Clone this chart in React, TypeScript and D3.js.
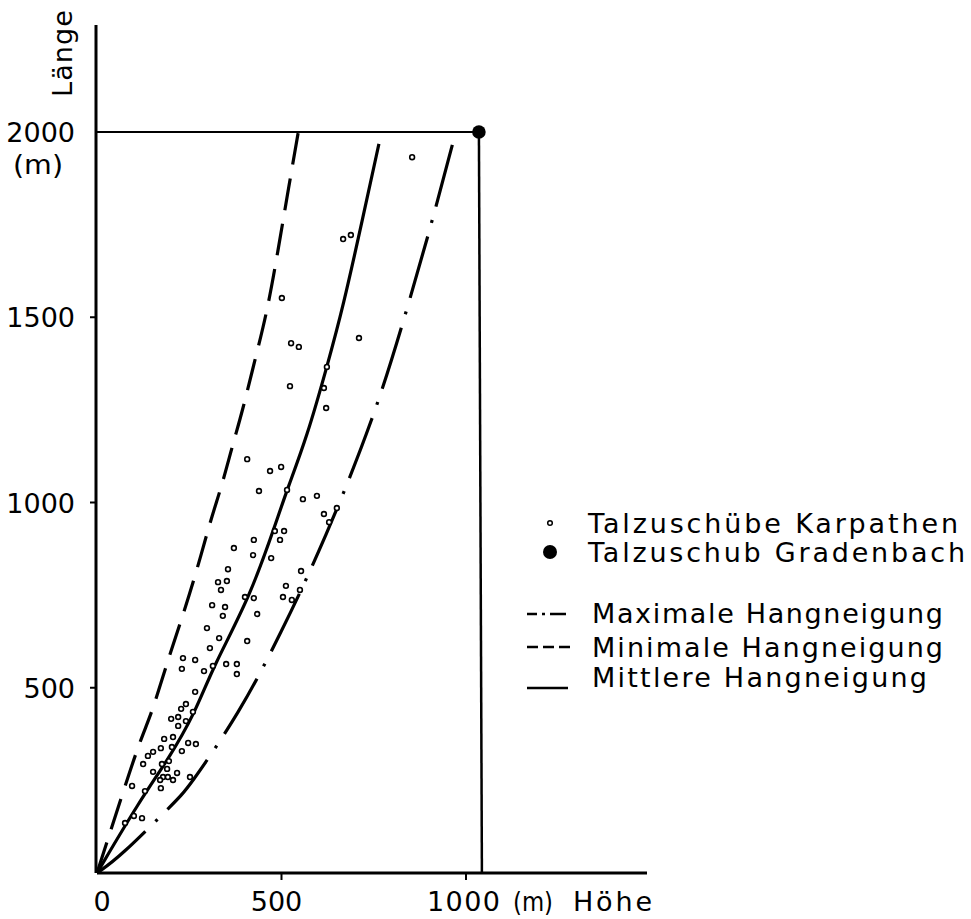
import React, { useEffect } from "react";
import * as d3 from "d3";

// Höhe (m) / Länge (m) readings
const karpathenHoehe = [854, 667, 688, 501, 526, 547, 710, 623, 523, 615, 621, 407, 469, 499, 439, 558, 596, 515, 615, 629, 650, 507, 482, 425, 496,
  371, 423, 472, 355, 553, 328, 352, 336, 512, 550, 401, 425, 504, 528, 312, 347, 341, 434, 298, 331, 407, 306, 233, 266, 230, 290, 314, 350, 379, 379,
  266, 241, 228, 260, 201, 220, 241, 220, 182, 206, 247, 268, 152, 173, 203, 230, 138, 125, 176, 195, 152, 190, 179, 192, 217, 171, 206, 252, 173, 130, 95, 76, 100, 122];
const karpathenLaenge = [1932, 1711, 1722, 1552, 1430, 1420, 1444, 1366, 1314, 1309, 1255, 1117, 1085, 1096, 1031, 1009, 1018, 1034, 969, 947, 985, 923, 923, 899, 899,
  877, 858, 850, 820, 815, 785, 788, 764, 775, 764, 745, 742, 745, 737, 723, 718, 694, 699, 661, 634, 626, 607, 580, 575, 551, 545, 559, 564, 564, 537,
  489, 456, 443, 435, 416, 421, 410, 397, 362, 367, 351, 348, 327, 337, 340, 329, 316, 294, 294, 302, 273, 281, 259, 259, 270, 251, 251, 259, 229, 221, 235, 135, 154, 148];

const gradenbachHoehe = 1035;
const gradenbachLaenge = 2000;

const maxHoehe = [0, 62, 211, 244, 388, 496, 618, 753, 829, 902, 965];
const maxLaenge = [0, 43, 192, 224, 435, 642, 899, 1236, 1484, 1735, 1973];
const minHoehe = [0, 35, 70, 117, 149, 192, 233, 271, 310, 339, 369, 393, 428, 461, 491, 515, 545];
const minLaenge = [0, 108, 216, 359, 432, 575, 696, 818, 960, 1047, 1161, 1242, 1385, 1514, 1682, 1825, 1997];
const meanHoehe = [0, 117, 192, 266, 314, 415, 490, 515, 569, 623, 667, 721, 764];
const meanLaenge = [0, 197, 305, 432, 556, 745, 960, 1034, 1177, 1366, 1528, 1771, 1968];

const xTicks = [500, 1000];
const yTicks = [500, 1000, 1500];
const xTickLabels = ["0", "500"];
const yTickLabels = ["500", "1000", "1500", "2000"];

const legendLabels = [
  "Talzuschübe Karpathen",
  "Talzuschub Gradenbach",
  "Maximale Hangneigung",
  "Minimale Hangneigung",
  "Mittlere Hangneigung",
];

const FONT = "'DejaVu Sans', sans-serif";

export default function App() {
  useEffect(() => {
    document.body.style.margin = "0";
    document.body.style.background = "#fff";
  }, []);

  const x = d3.scaleLinear().domain([0, 1000]).range([97, 466]);
  const y = d3.scaleLinear().domain([0, 2000]).range([873, 132]);

  const line = d3
    .line<[number, number]>()
    .x((d) => x(d[0]))
    .y((d) => y(d[1]))
    .curve(d3.curveBasis);

  const zip = (a: number[], b: number[]) => a.map((v, i) => [v, b[i]] as [number, number]);

  const gx = x(gradenbachHoehe);
  const gy = y(gradenbachLaenge);

  const txt = { fontFamily: FONT, fontSize: 27, fill: "#000" } as const;

  return (
    <svg width={971} height={919} style={{ position: "absolute", left: 0, top: 0, background: "#fff" }}>
      {/* axes */}
      <line x1={x(0)} y1={y(0)} x2={647} y2={y(0)} stroke="#000" strokeWidth={3} />
      <line x1={x(0) - 1} y1={y(0)} x2={x(0) - 1} y2={25} stroke="#000" strokeWidth={3} />
      {xTicks.map((t) => (
        <line key={"xt" + t} x1={x(t)} x2={x(t)} y1={y(0)} y2={y(0) + 7} stroke="#000" strokeWidth={2} />
      ))}
      {yTicks.map((t) => (
        <line key={"yt" + t} x1={x(0) - 7} x2={x(0)} y1={y(t)} y2={y(t)} stroke="#000" strokeWidth={2} />
      ))}

      {/* reference lines to Gradenbach */}
      <line x1={x(0)} y1={gy} x2={gx} y2={gy} stroke="#000" strokeWidth={2} />
      <line x1={gx} y1={gy} x2={gx + 3} y2={y(0)} stroke="#000" strokeWidth={2.5} />

      {/* curves */}
      <path d={line(zip(minHoehe, minLaenge)) || ""} fill="none" stroke="#000" strokeWidth={3.2} strokeDasharray="32,14" />
      <path d={line(zip(meanHoehe, meanLaenge)) || ""} fill="none" stroke="#000" strokeWidth={3.2} />
      <path d={line(zip(maxHoehe, maxLaenge)) || ""} fill="none" stroke="#000" strokeWidth={3.2} strokeDasharray="64,14,3,14" />

      {/* scatter */}
      {karpathenHoehe.map((h, i) => (
        <circle key={"p" + i} cx={x(h)} cy={y(karpathenLaenge[i])} r={2.4} fill="#fff" stroke="#000" strokeWidth={1.6} />
      ))}
      <circle cx={gx} cy={gy} r={6.8} fill="#000" />

      {/* tick labels */}
      <text {...txt} x={x(0) + 5} y={911} textAnchor="middle">{xTickLabels[0]}</text>
      <text {...txt} x={x(500) - 5} y={911} textAnchor="middle">{xTickLabels[1]}</text>
      <text {...txt} x={427} y={911} textLength={73} lengthAdjust="spacing">1000</text>
      <text {...txt} x={513} y={911} textLength={40} lengthAdjust="spacingAndGlyphs">(m)</text>
      <text {...txt} x={573} y={911} textLength={79} lengthAdjust="spacing">Höhe</text>

      {yTickLabels.map((l, i) => (
        <text key={"yl" + l} {...txt} x={75} y={y(+l) + 10} textAnchor="end">{l}</text>
      ))}
      <text {...txt} x={13} y={174} textLength={50} lengthAdjust="spacingAndGlyphs">(m)</text>
      <text {...txt} transform="translate(72,97) rotate(-90)" x={0} y={0} textLength={87} lengthAdjust="spacing">Länge</text>

      {/* legend */}
      <circle cx={550} cy={523} r={2.3} fill="#fff" stroke="#000" strokeWidth={1.5} />
      <text {...txt} x={588} y={533} textLength={370} lengthAdjust="spacing">{legendLabels[0]}</text>
      <circle cx={550} cy={552} r={7} fill="#000" />
      <text {...txt} x={588} y={562} textLength={377} lengthAdjust="spacing">{legendLabels[1]}</text>
      <line x1={527} x2={566} y1={614} y2={614} stroke="#000" strokeWidth={2.5} strokeDasharray="10,5,3,5,16" />
      <text {...txt} x={592} y={623} textLength={351} lengthAdjust="spacing">{legendLabels[2]}</text>
      <line x1={527} x2={570} y1={647} y2={647} stroke="#000" strokeWidth={2.5} strokeDasharray="11,5" />
      <text {...txt} x={592} y={657} textLength={351} lengthAdjust="spacing">{legendLabels[3]}</text>
      <line x1={527} x2={568} y1={688} y2={688} stroke="#000" strokeWidth={2.5} />
      <text {...txt} x={592} y={687} textLength={335} lengthAdjust="spacing">{legendLabels[4]}</text>
    </svg>
  );
}
